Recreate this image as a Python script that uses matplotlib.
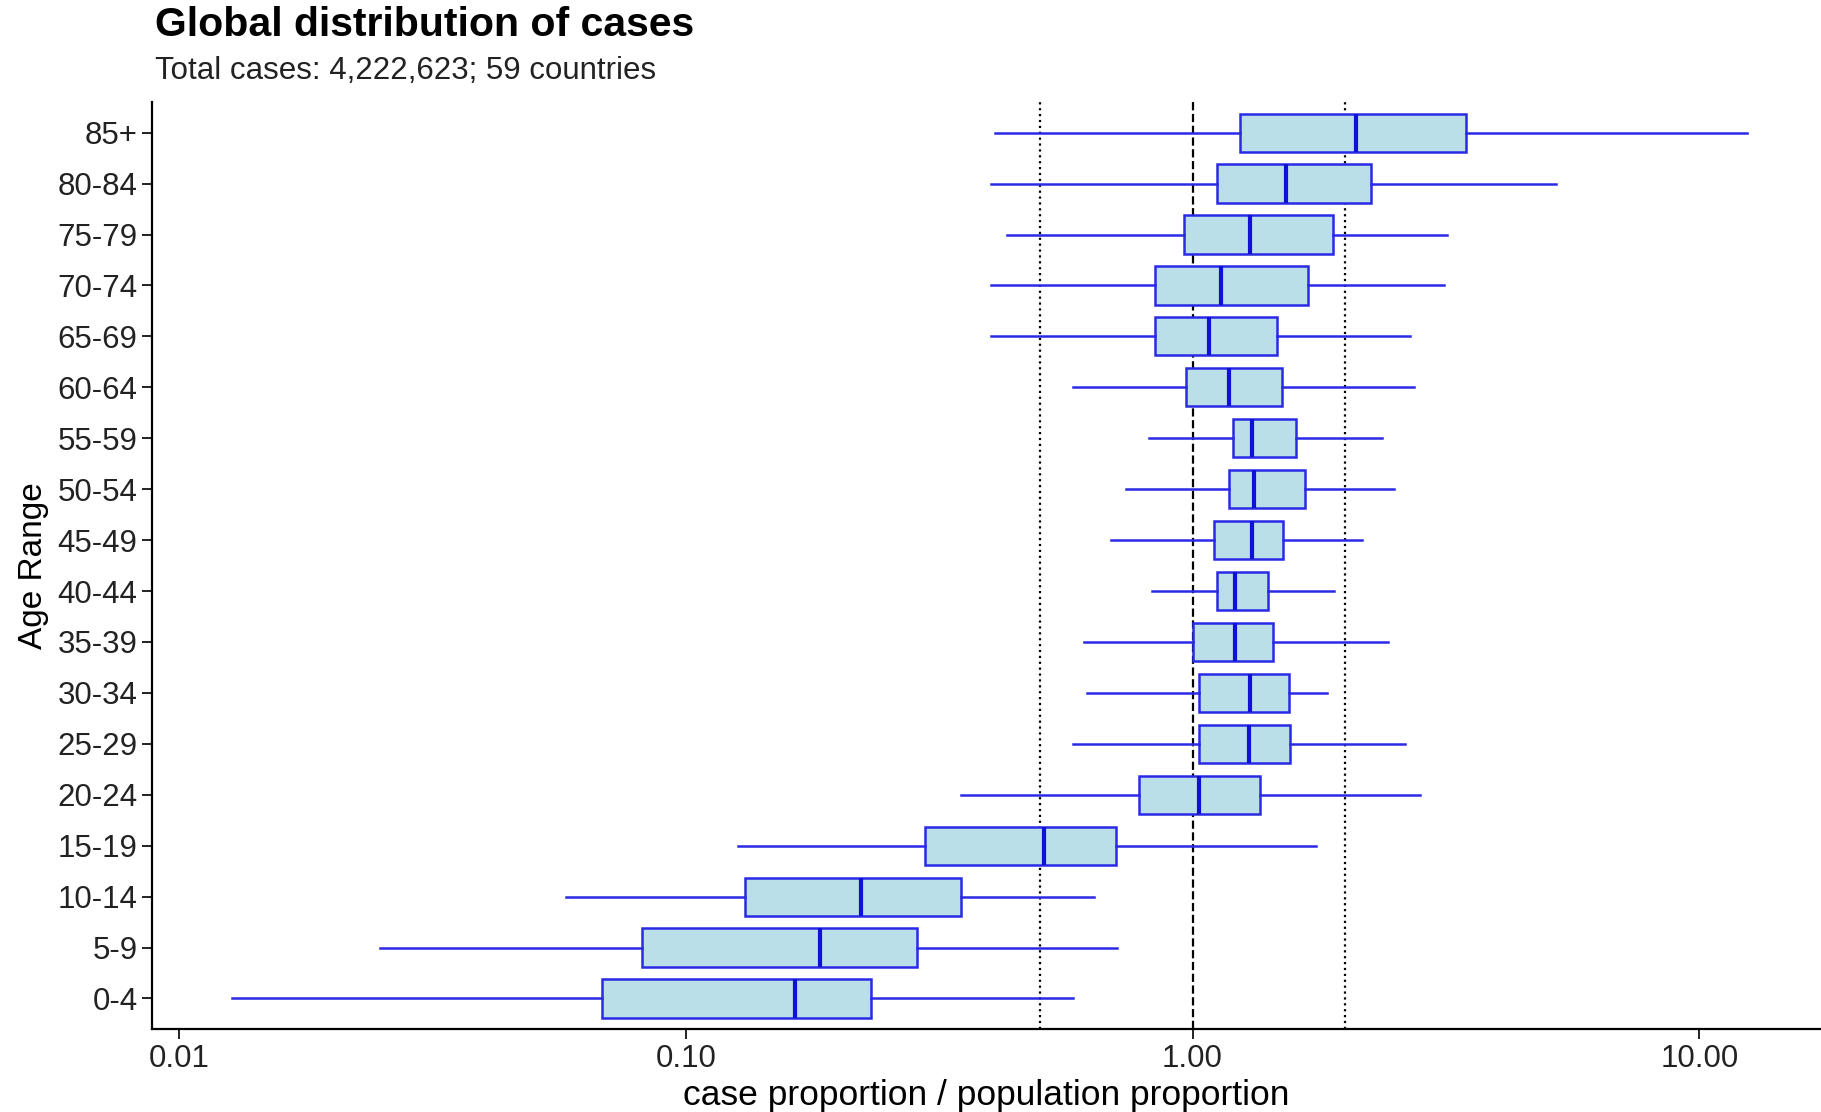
import matplotlib.pyplot as plt

plt.rcParams["font.family"] = ["Liberation Sans", "DejaVu Sans"]

# age groups, bottom to top
ages = ["0-4", "5-9", "10-14", "15-19", "20-24", "25-29", "30-34", "35-39", "40-44",
        "45-49", "50-54", "55-59", "60-64", "65-69", "70-74", "75-79", "80-84", "85+"]

whisker_lo = [0.0127, 0.0249, 0.058, 0.127, 0.35, 0.58, 0.62, 0.61, 0.83,
              0.69, 0.74, 0.82, 0.58, 0.40, 0.40, 0.43, 0.40, 0.408]
q1 = [0.0685, 0.082, 0.131, 0.297, 0.785, 1.03, 1.03, 1.00, 1.12,
      1.10, 1.18, 1.20, 0.97, 0.845, 0.845, 0.96, 1.12, 1.24]
median = [0.164, 0.184, 0.222, 0.509, 1.03, 1.29, 1.30, 1.21, 1.21,
          1.31, 1.32, 1.31, 1.18, 1.08, 1.14, 1.30, 1.53, 2.10]
q3 = [0.232, 0.286, 0.350, 0.706, 1.36, 1.56, 1.55, 1.44, 1.41,
      1.51, 1.67, 1.60, 1.50, 1.47, 1.69, 1.89, 2.25, 3.47]
whisker_hi = [0.58, 0.710, 0.638, 1.75, 2.81, 2.63, 1.84, 2.43, 1.90,
              2.16, 2.50, 2.36, 2.74, 2.68, 3.14, 3.18, 5.22, 12.4]

ref_lines = [0.5, 1.0, 2.0]
ref_styles = [":", "--", ":"]

x_ticks = [0.01, 0.1, 1.0, 10.0]
x_ticklabels = ["0.01", "0.10", "1.00", "10.00"]

stats = []
for i, label in enumerate(ages):
    stats.append({"label": label, "whislo": whisker_lo[i], "q1": q1[i], "med": median[i],
                  "q3": q3[i], "whishi": whisker_hi[i], "fliers": []})

fig = plt.figure(figsize=(18.21, 11.12), dpi=100)
ax = fig.add_axes([0.0835, 0.0746, 0.9165, 0.8336])

for x, ls in zip(ref_lines, ref_styles):
    ax.axvline(x, color="black", linestyle=ls, linewidth=1.6, zorder=1)

edge = "#2a2ae6"
ax.bxp(stats, positions=range(1, len(ages) + 1), widths=0.75, vert=False,
       patch_artist=True, showcaps=False, showfliers=False,
       boxprops=dict(facecolor="#badfe9", edgecolor=edge, linewidth=1.8),
       whiskerprops=dict(color=edge, linewidth=1.8),
       medianprops=dict(color="#1010d8", linewidth=3.0),
       zorder=2)

ax.set_xscale("log")
ax.set_xlim(10 ** -2.053, 10 ** 1.240)
ax.set_ylim(0.4, len(ages) + 0.6)
ax.set_xticks(x_ticks)
ax.set_xticklabels(x_ticklabels)
ax.minorticks_off()
ax.set_yticks(range(1, len(ages) + 1))
ax.set_yticklabels(ages)

for side in ["top", "right"]:
    ax.spines[side].set_visible(False)
for side in ["left", "bottom"]:
    ax.spines[side].set_linewidth(1.6)
ax.tick_params(axis="both", labelsize=22.5, length=7, width=1.4, colors="#222222", labelcolor="#222222")

ax.set_xlabel("case proportion / population proportion", fontsize=25.5, labelpad=4)
ax.set_ylabel("Age Range", fontsize=24, labelpad=6)

fig.text(0.085, 0.968, "Global distribution of cases", fontsize=29.5, fontweight="bold", va="baseline")
fig.text(0.085, 0.929, "Total cases: 4,222,623; 59 countries", fontsize=22.5, va="baseline", color="#222222")

fig.savefig("out.png", dpi=100)
